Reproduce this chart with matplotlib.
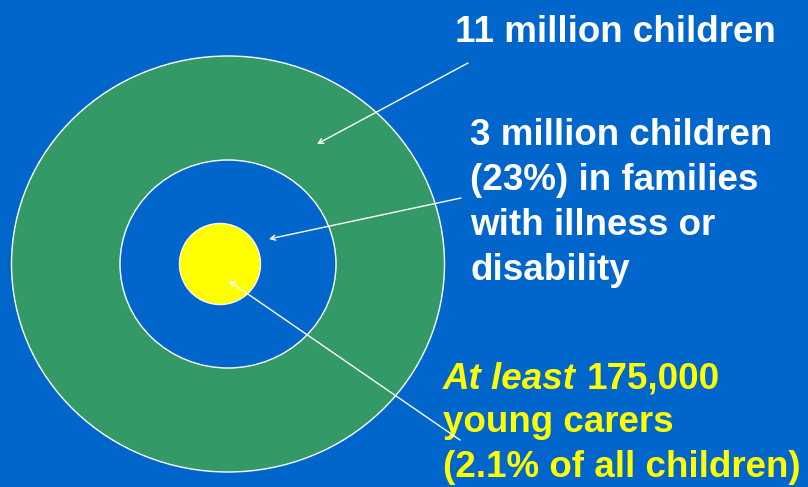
import matplotlib
matplotlib.use("Agg")
import matplotlib.pyplot as plt
from matplotlib.patches import Ellipse

# ---- data ----
ring_labels = ["11 million children", "3 million children", "At least 175,000 young carers"]
ring_widths = [433, 216, 81]      # pixel size of each ring (x)
ring_heights = [416, 208, 81]     # pixel size of each ring (y)
ring_centers = [(228, 264), (228, 264), (220, 264)]
ring_colors = ["#339966", "#0066CC", "#FFFF00"]

white_lines = ["3 million children", "(23%) in families", "with illness or", "disability"]
yellow_lines = ["young carers", "(2.1% of all children)"]

BG = "#0066CC"
W, H = 808, 487

fig = plt.figure(figsize=(W / 100, H / 100), dpi=100, facecolor=BG)
ax = fig.add_axes([0, 0, 1, 1])
ax.set_xlim(0, W)
ax.set_ylim(H, 0)
ax.set_facecolor(BG)
ax.axis("off")

for (cx, cy), w, h, c in zip(ring_centers, ring_widths, ring_heights, ring_colors):
    ax.add_patch(Ellipse((cx, cy), w, h, facecolor=c, edgecolor="white", lw=1.0, zorder=2))

font = dict(family="Liberation Sans", fontweight="bold", fontsize=26.5)

ax.text(455, 42, "11 million children", color="white", va="baseline", ha="left", **font)

for i, line in enumerate(white_lines):
    ax.text(470, 145 + 45 * i, line, color="white", va="baseline", ha="left", **font)

ax.text(443, 389, "At least", color="#FFFF00", va="baseline", ha="left",
        style="italic", **font)
ax.text(587, 389, "175,000", color="#FFFF00", va="baseline", ha="left", **font)
for i, line in enumerate(yellow_lines):
    ax.text(443, 432 + 45 * i, line, color="#FFFF00", va="baseline", ha="left", **font)

arrows = [((468, 63), (317, 144)), ((461, 198), (269, 239)), ((460, 440), (229, 281))]
for start, end in arrows:
    ax.annotate("", xy=end, xytext=start,
                arrowprops=dict(arrowstyle="->,head_length=0.35,head_width=0.18",
                                color="white", lw=1.0, shrinkA=0, shrinkB=0),
                zorder=5)

fig.savefig("out.png", dpi=100, facecolor=BG)
